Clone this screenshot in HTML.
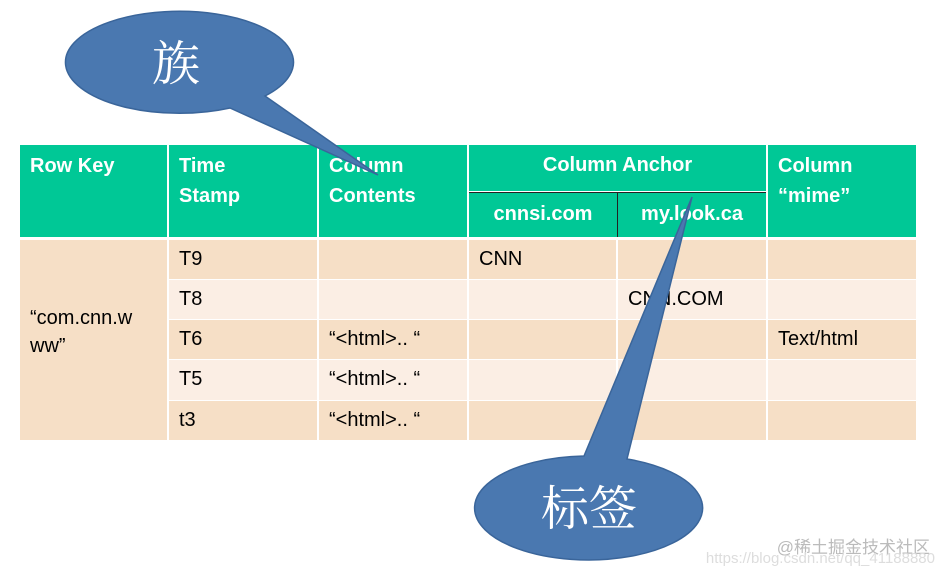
<!DOCTYPE html>
<html><head><meta charset="utf-8"><style>
body{margin:0;width:948px;height:575px;background:#fff;position:relative;overflow:hidden;font-family:"Liberation Sans","Noto Sans CJK SC",sans-serif}
.c{position:absolute;box-sizing:border-box;font-size:20px;line-height:30px;padding:6px 10px}
.h{background:#00C896;color:#fff;font-weight:bold}
.a{background:#F6DFC6}
.b{background:#FBEEE4}
svg{position:absolute;left:0;top:0}
</style></head><body>
<div class="c h" style="left:20px;top:145px;width:147px;height:92px">Row Key</div>
<div class="c h" style="left:169px;top:145px;width:148px;height:92px">Time<br>Stamp</div>
<div class="c h" style="left:319px;top:145px;width:148px;height:92px">Column<br>Contents</div>
<div class="c h" style="left:469px;top:145px;width:297px;height:46px;text-align:center;padding-top:5px">Column Anchor</div>
<div class="c h" style="left:469px;top:192px;width:148px;height:45px;text-align:center;padding-top:6px;border-top:1px solid #222">cnnsi.com</div>
<div class="c h" style="left:617px;top:192px;width:149px;height:45px;text-align:center;padding-top:6px;border-top:1px solid #222;border-left:1px solid #222">my.look.ca</div>
<div class="c h" style="left:768px;top:145px;width:148px;height:92px">Column<br>“mime”</div>

<div class="c a" style="left:20px;top:240px;width:147px;height:200px;padding-top:64px;line-height:28px">“com.cnn.w<br>ww”</div>

<div class="c a" style="left:169px;top:240px;width:148px;height:39px;padding-top:4px">T9</div>
<div class="c a" style="left:319px;top:240px;width:148px;height:39px"></div>
<div class="c a" style="left:469px;top:240px;width:147px;height:39px;padding-top:4px">CNN</div>
<div class="c a" style="left:618px;top:240px;width:148px;height:39px"></div>
<div class="c a" style="left:768px;top:240px;width:148px;height:39px"></div>

<div class="c b" style="left:169px;top:280px;width:148px;height:39px;padding-top:4px">T8</div>
<div class="c b" style="left:319px;top:280px;width:148px;height:39px"></div>
<div class="c b" style="left:469px;top:280px;width:147px;height:39px"></div>
<div class="c b" style="left:618px;top:280px;width:148px;height:39px;padding-top:4px">CNN.COM</div>
<div class="c b" style="left:768px;top:280px;width:148px;height:39px"></div>

<div class="c a" style="left:169px;top:320px;width:148px;height:39px;padding-top:4px">T6</div>
<div class="c a" style="left:319px;top:320px;width:148px;height:39px;padding-top:4px">“&lt;html&gt;.. “</div>
<div class="c a" style="left:469px;top:320px;width:147px;height:39px"></div>
<div class="c a" style="left:618px;top:320px;width:148px;height:39px"></div>
<div class="c a" style="left:768px;top:320px;width:148px;height:39px;padding-top:4px">Text/html</div>

<div class="c b" style="left:169px;top:360px;width:148px;height:40px;padding-top:4px">T5</div>
<div class="c b" style="left:319px;top:360px;width:148px;height:40px;padding-top:4px">“&lt;html&gt;.. “</div>
<div class="c b" style="left:469px;top:360px;width:147px;height:40px"></div>
<div class="c b" style="left:618px;top:360px;width:148px;height:40px"></div>
<div class="c b" style="left:768px;top:360px;width:148px;height:40px"></div>

<div class="c a" style="left:169px;top:401px;width:148px;height:39px;padding-top:4px">t3</div>
<div class="c a" style="left:319px;top:401px;width:148px;height:39px;padding-top:4px">“&lt;html&gt;.. “</div>
<div class="c a" style="left:469px;top:401px;width:147px;height:39px"></div>
<div class="c a" style="left:618px;top:401px;width:148px;height:39px"></div>
<div class="c a" style="left:768px;top:401px;width:148px;height:39px"></div>

<svg width="948" height="575">
<g fill="#4A78B0" stroke="#3A659A" stroke-width="1.5">
<path d="M230,108 A114,51 0 1 1 265,96 L378,175 Z"/>
<path d="M584,456 A114,52 0 1 0 627,459 L692,197 Z"/>
</g>
<text x="176" y="80" text-anchor="middle" font-size="48" fill="#fff" font-family="Noto Serif CJK SC, serif">族</text>
<text x="589" y="525" text-anchor="middle" font-size="48" fill="#fff" font-family="Noto Serif CJK SC, serif">标签</text>
<text x="930" y="553" text-anchor="end" font-size="17" fill="#bbb" font-family="Liberation Sans, Noto Sans CJK SC, sans-serif">@稀土掘金技术社区</text>
<text x="935" y="563" text-anchor="end" font-size="15" fill="#ddd" font-family="Liberation Sans, sans-serif">https://blog.csdn.net/qq_41188880</text>
</svg>
</body></html>
